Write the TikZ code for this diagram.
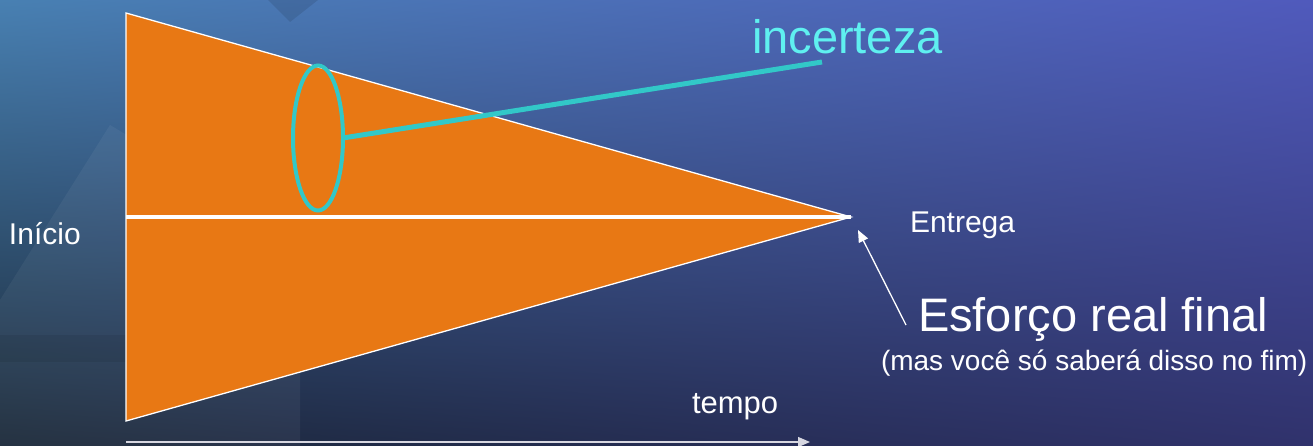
\documentclass[tikz,border=0pt]{standalone}
\usepackage{fontspec}
\setmainfont{Liberation Sans}
\usetikzlibrary{shapes.geometric,arrows.meta,shadings}

\definecolor{laranja}{RGB}{232,120,20}
\definecolor{ciano}{RGB}{50,200,200}
\definecolor{cianoclaro}{RGB}{95,240,240}
\definecolor{fundoA}{RGB}{72,128,178}
\definecolor{fundoB}{RGB}{80,90,188}
\definecolor{fundoC}{RGB}{26,40,56}
\definecolor{fundoD}{RGB}{48,50,108}
\definecolor{cinza}{RGB}{215,215,225}

\begin{document}
\begin{tikzpicture}[x=1pt, y=-1pt,
  every node/.style={inner sep=0pt, outer sep=0pt, text=white},
  rotulo/.style={anchor=base west, font=\fontsize{30}{36}\selectfont},
  seta/.style={draw=white, line width=1.3pt, -{Triangle[length=12pt,width=10pt]}}]
\useasboundingbox (0,0) rectangle (1313,446);

% fundo
\shade[upper left=fundoA, upper right=fundoB, lower left=fundoC, lower right=fundoD]
  (0,0) rectangle (1313,446);
\fill[white, opacity=0.05] (0,300) -- (110,125) -- (300,240) -- (300,446) -- (0,446) -- cycle;
\fill[black, opacity=0.07] (0,335) rectangle (300,362);
\fill[black, opacity=0.1] (268,0) -- (290,22) -- (318,0) -- cycle;

% triangulo
\coordinate (topo) at (126,13);
\coordinate (base) at (126,421);
\coordinate (ponta) at (851,217);
\coordinate (meio) at (126,217);
\draw[white, line width=1.3pt, fill=laranja] (topo) -- (ponta) -- (base) -- cycle;
\draw[white, line width=3.5pt] (meio) -- (ponta);

% incerteza
\node[ellipse, draw=ciano, line width=4pt, minimum width=50pt, minimum height=145pt] (elipse) at (318,138) {};
\coordinate (fimlinha) at (822,62);
\draw[ciano, line width=5pt] (elipse.east) -- (fimlinha);
\node[anchor=base west, text=cianoclaro, font=\fontsize{47}{56}\selectfont] (incerteza) at (752,54) {incerteza};

% rotulos
\node[rotulo] (inicio) at (9,244) {Início};
\node[rotulo] (entrega) at (910,233) {Entrega};
\node[rotulo, font=\fontsize{31}{37}\selectfont] (tempo) at (692,413) {tempo};
\node[anchor=base west, font=\fontsize{47}{56}\selectfont] (esforco) at (918,331) {Esforço real final};
\node[anchor=base west, font=\fontsize{28}{33}\selectfont] (nota) at (881,370) {(mas você só saberá disso no fim)};

% setas
\coordinate (alvo) at (858,230);
\coordinate (saida) at (906,325);
\draw[seta] (saida) -- (alvo);
\coordinate (t0) at (126,442);
\coordinate (t1) at (810,442);
\draw[seta, draw=cinza] (t0) -- (t1);
\end{tikzpicture}
\end{document}
